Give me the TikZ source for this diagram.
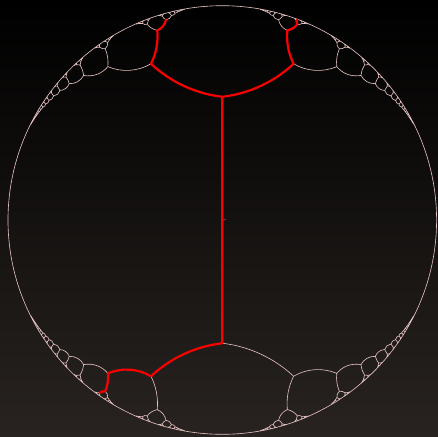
\documentclass[tikz,border=0pt]{standalone}
\usepackage{tikz}
\definecolor{bg_bottom}{RGB}{40,35,32}
\definecolor{tree_pink}{RGB}{230,195,195}
\definecolor{walk_red}{RGB}{250,0,0}

\ExplSyntaxOn
% turtle state is a disc isometry z -> (a z + b)/(conj(b) z + conj(a))
\fp_new:N \l_ht_ar_fp  \fp_new:N \l_ht_ai_fp
\fp_new:N \l_ht_br_fp  \fp_new:N \l_ht_bi_fp
\fp_new:N \l_ht_sar_fp \fp_new:N \l_ht_sai_fp
\fp_new:N \l_ht_sbr_fp \fp_new:N \l_ht_sbi_fp
\fp_new:N \l_ht_n_fp
\fp_new:N \l_ht_xa_fp  \fp_new:N \l_ht_ya_fp
\fp_new:N \l_ht_xb_fp  \fp_new:N \l_ht_yb_fp
\fp_new:N \l_ht_ta_fp  \fp_new:N \l_ht_tb_fp
\fp_new:N \l_ht_ph_fp  \fp_new:N \l_ht_c_fp  \fp_new:N \l_ht_k_fp
\fp_new:N \l_ht_cs_fp  \fp_new:N \l_ht_sn_fp
\tl_new:N \l_ht_seg_tl
\tl_new:N \g_ht_white_tl
\tl_new:N \g_ht_red_tl
\clist_new:N \g_ht_red_clist

% step lengths and turning angles
\fp_const:Nn \c_ht_rootch_fp { ( exp ( 0.655 ) + exp ( -0.655 ) ) / 2 }
\fp_const:Nn \c_ht_rootsh_fp { ( exp ( 0.655 ) - exp ( -0.655 ) ) / 2 }
\fp_const:Nn \c_ht_ch_fp { ( exp ( 0.6925 ) + exp ( -0.6925 ) ) / 2 }
\fp_const:Nn \c_ht_sh_fp { ( exp ( 0.6925 ) - exp ( -0.6925 ) ) / 2 }
\fp_const:Nn \c_ht_firsthalf_fp { 41.7 }
\fp_const:Nn \c_ht_half_fp { 36.8 }
\fp_const:Nn \c_ht_eps_fp { 0.0025 }
\int_const:Nn \c_ht_depth_int { 30 }

\clist_gset:Nn \g_ht_red_clist
  { U, UL, UR, ULR, ULRR, URL, URLR, URLRL, URLRLR, D, DR, DRR, DRRL, DRRLR }

\cs_new_protected:Npn \ht_branch:nnnnnnnn #1#2#3#4#5#6#7#8
  {
    \group_begin:
      \fp_set:Nn \l_ht_ar_fp {#1}
      \fp_set:Nn \l_ht_ai_fp {#2}
      \fp_set:Nn \l_ht_br_fp {#3}
      \fp_set:Nn \l_ht_bi_fp {#4}
      \fp_set:Nn \l_ht_sar_fp { \l_ht_ar_fp * #5 + \l_ht_br_fp * #6 }
      \fp_set:Nn \l_ht_sai_fp { \l_ht_ai_fp * #5 + \l_ht_bi_fp * #6 }
      \fp_set:Nn \l_ht_sbr_fp { \l_ht_ar_fp * #6 + \l_ht_br_fp * #5 }
      \fp_set:Nn \l_ht_sbi_fp { \l_ht_ai_fp * #6 + \l_ht_bi_fp * #5 }
      \fp_set:Nn \l_ht_n_fp { \l_ht_ar_fp ^ 2 + \l_ht_ai_fp ^ 2 }
      \fp_set:Nn \l_ht_xa_fp { ( \l_ht_br_fp * \l_ht_ar_fp - \l_ht_bi_fp * \l_ht_ai_fp ) / \l_ht_n_fp }
      \fp_set:Nn \l_ht_ya_fp { ( \l_ht_br_fp * \l_ht_ai_fp + \l_ht_bi_fp * \l_ht_ar_fp ) / \l_ht_n_fp }
      \fp_set:Nn \l_ht_n_fp { \l_ht_sar_fp ^ 2 + \l_ht_sai_fp ^ 2 }
      \fp_set:Nn \l_ht_xb_fp { ( \l_ht_sbr_fp * \l_ht_sar_fp - \l_ht_sbi_fp * \l_ht_sai_fp ) / \l_ht_n_fp }
      \fp_set:Nn \l_ht_yb_fp { ( \l_ht_sbr_fp * \l_ht_sai_fp + \l_ht_sbi_fp * \l_ht_sar_fp ) / \l_ht_n_fp }
      \fp_set:Nn \l_ht_ta_fp { 2 * atan ( \l_ht_ai_fp , \l_ht_ar_fp ) }
      \fp_set:Nn \l_ht_tb_fp { 2 * atan ( \l_ht_sai_fp , \l_ht_sar_fp ) }
      \fp_set:Nn \l_ht_ph_fp { \l_ht_tb_fp - \l_ht_ta_fp }
      \fp_set:Nn \l_ht_ph_fp { \l_ht_ph_fp - 2 * pi * round ( \l_ht_ph_fp / ( 2 * pi ) ) }
      \fp_set:Nn \l_ht_c_fp { sqrt ( ( \l_ht_xb_fp - \l_ht_xa_fp ) ^ 2 + ( \l_ht_yb_fp - \l_ht_ya_fp ) ^ 2 ) }
      \fp_set:Nn \l_ht_k_fp { \l_ht_c_fp / ( 3 * ( cos ( \l_ht_ph_fp / 4 ) ) ^ 2 ) }
      \tl_set:Nx \l_ht_seg_tl
        {
          ( \fp_eval:n { round ( \l_ht_xa_fp , 5 ) } , \fp_eval:n { round ( \l_ht_ya_fp , 5 ) } )
          ~..~controls~
          ( \fp_eval:n { round ( \l_ht_xa_fp + \l_ht_k_fp * cos ( \l_ht_ta_fp ) , 5 ) } ,
            \fp_eval:n { round ( \l_ht_ya_fp + \l_ht_k_fp * sin ( \l_ht_ta_fp ) , 5 ) } )
          ~and~
          ( \fp_eval:n { round ( \l_ht_xb_fp - \l_ht_k_fp * cos ( \l_ht_tb_fp ) , 5 ) } ,
            \fp_eval:n { round ( \l_ht_yb_fp - \l_ht_k_fp * sin ( \l_ht_tb_fp ) , 5 ) } )
          ~..~
          ( \fp_eval:n { round ( \l_ht_xb_fp , 5 ) } , \fp_eval:n { round ( \l_ht_yb_fp , 5 ) } ) ~
        }
      \clist_if_in:NnTF \g_ht_red_clist {#7}
        { \tl_gput_right:NV \g_ht_red_tl \l_ht_seg_tl }
        { \tl_gput_right:NV \g_ht_white_tl \l_ht_seg_tl }
      \int_compare:nNnTF {#8} = { 1 }
        {
          \fp_set:Nn \l_ht_cs_fp { cosd ( \c_ht_firsthalf_fp ) }
          \fp_set:Nn \l_ht_sn_fp { sind ( \c_ht_firsthalf_fp ) }
        }
        {
          \fp_set:Nn \l_ht_cs_fp { cosd ( \c_ht_half_fp ) }
          \fp_set:Nn \l_ht_sn_fp { sind ( \c_ht_half_fp ) }
        }
      \bool_if:nT
        { \fp_compare_p:n { \l_ht_c_fp > \c_ht_eps_fp } && \int_compare_p:n { #8 < \c_ht_depth_int } }
        {
          % turn left
          \use:x
            {
              \ht_branch:nnnnnnnn
                { \fp_eval:n { \l_ht_sar_fp * \l_ht_cs_fp - \l_ht_sai_fp * \l_ht_sn_fp } }
                { \fp_eval:n { \l_ht_sar_fp * \l_ht_sn_fp + \l_ht_sai_fp * \l_ht_cs_fp } }
                { \fp_eval:n { \l_ht_sbr_fp * \l_ht_cs_fp + \l_ht_sbi_fp * \l_ht_sn_fp } }
                { \fp_eval:n { \l_ht_sbi_fp * \l_ht_cs_fp - \l_ht_sbr_fp * \l_ht_sn_fp } }
                { \fp_use:N \c_ht_ch_fp } { \fp_use:N \c_ht_sh_fp }
                { #7 L } { \int_eval:n { #8 + 1 } }
            }
          % turn right
          \use:x
            {
              \ht_branch:nnnnnnnn
                { \fp_eval:n { \l_ht_sar_fp * \l_ht_cs_fp + \l_ht_sai_fp * \l_ht_sn_fp } }
                { \fp_eval:n { - \l_ht_sar_fp * \l_ht_sn_fp + \l_ht_sai_fp * \l_ht_cs_fp } }
                { \fp_eval:n { \l_ht_sbr_fp * \l_ht_cs_fp - \l_ht_sbi_fp * \l_ht_sn_fp } }
                { \fp_eval:n { \l_ht_sbi_fp * \l_ht_cs_fp + \l_ht_sbr_fp * \l_ht_sn_fp } }
                { \fp_use:N \c_ht_ch_fp } { \fp_use:N \c_ht_sh_fp }
                { #7 R } { \int_eval:n { #8 + 1 } }
            }
        }
    \group_end:
  }

\cs_new_protected:Npn \BuildTree
  {
    \tl_gclear:N \g_ht_white_tl
    \tl_gclear:N \g_ht_red_tl
    \ht_branch:nnnnnnnn { 0.7071067811865476 } { 0.7071067811865476 } { 0 } { 0 }
      { \fp_use:N \c_ht_rootch_fp } { \fp_use:N \c_ht_rootsh_fp } { U } { 1 }
    \ht_branch:nnnnnnnn { 0.7071067811865476 } { -0.7071067811865476 } { 0 } { 0 }
      { \fp_use:N \c_ht_rootch_fp } { \fp_use:N \c_ht_rootsh_fp } { D } { 1 }
  }
\cs_new_protected:Npn \DrawWhiteTree #1
  { \use:x { \exp_not:N \draw [#1] \exp_not:V \g_ht_white_tl ; } }
\cs_new_protected:Npn \DrawRedTree #1
  { \use:x { \exp_not:N \draw [#1] \exp_not:V \g_ht_red_tl ; } }
\ExplSyntaxOff

\begin{document}
\begin{tikzpicture}[
    x=4.286cm, y=4.286cm,
    rim/.style={draw=tree_pink, line width=0.35pt},
    tree/.style={tree_pink, line width=0.35pt},
    walk/.style={walk_red, line width=1.25pt, line cap=round, line join=round}
  ]
  % Background
  \useasboundingbox (-1.0373,-1.0079) rectangle (1.0065,1.0266);
  \shade[top color=black, bottom color=bg_bottom] (-1.0373,-1.0079) rectangle (1.0065,1.0266);

  % Disc
  \coordinate (centre) at (0,0);
  \coordinate (tick) at (0.018,0.002);
  \draw[rim] (centre) circle (1);

  % Tree
  \BuildTree
  \DrawWhiteTree{tree}
  \DrawRedTree{walk}
  \draw[walk_red!60!gray, line width=0.4pt] (centre) -- (tick);
\end{tikzpicture}
\end{document}
